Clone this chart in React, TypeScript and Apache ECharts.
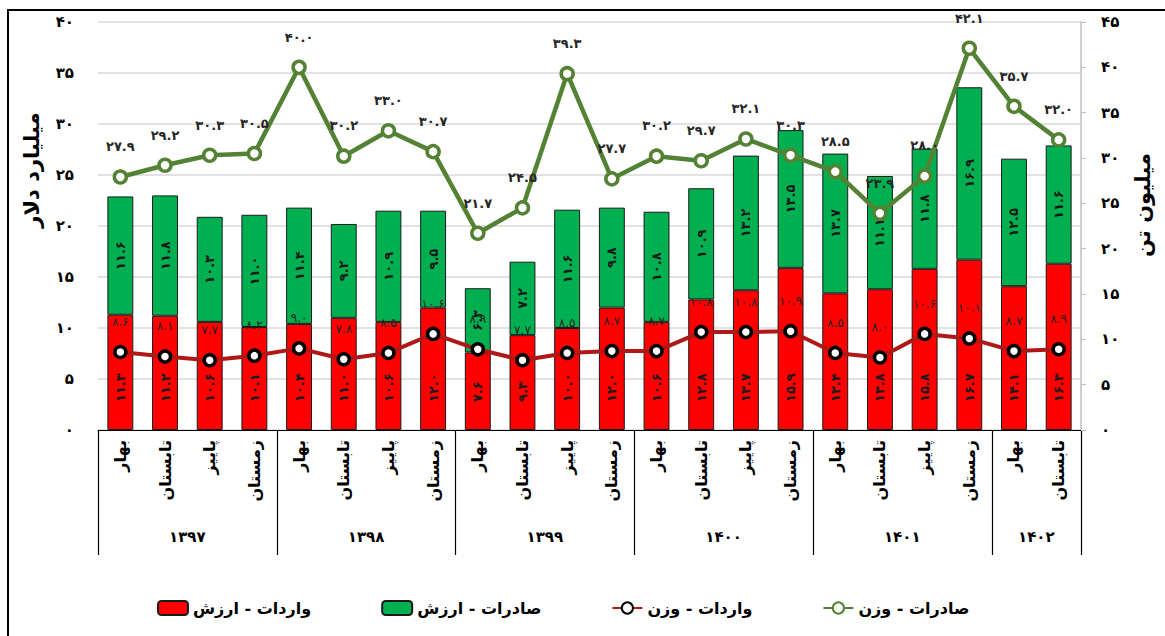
import React, { useEffect, useRef } from "react";
import * as echarts from "echarts";

const seasons = ["بهار", "تابستان", "پاییز", "زمستان"];
const years = ["۱۳۹۷", "۱۳۹۸", "۱۳۹۹", "۱۴۰۰", "۱۴۰۱", "۱۴۰۲"];
const yearCounts = [4, 4, 4, 4, 4, 2];
const categories: string[] = [];
yearCounts.forEach((n) => { for (let i = 0; i < n; i++) categories.push(seasons[i]); });

const importValue = [11.3, 11.2, 10.6, 10.1, 10.4, 11.0, 10.6, 12.0, 7.6, 9.3, 10.0, 12.0, 10.6, 12.8, 13.7, 15.9, 13.4, 13.8, 15.8, 16.7, 14.1, 16.3];
const exportValue = [11.6, 11.8, 10.3, 11.0, 11.4, 9.2, 10.9, 9.5, 6.3, 7.2, 11.6, 9.8, 10.8, 10.9, 13.2, 13.5, 13.7, 11.1, 11.8, 16.9, 12.5, 11.6];
const importWeight = [8.6, 8.1, 7.7, 8.2, 9.0, 7.8, 8.5, 10.6, 8.9, 7.7, 8.5, 8.7, 8.7, 10.8, 10.8, 10.9, 8.5, 8.0, 10.6, 10.1, 8.7, 8.9];
const exportWeight = [27.9, 29.2, 30.3, 30.5, 40.0, 30.2, 33.0, 30.7, 21.7, 24.5, 39.3, 27.7, 30.2, 29.7, 32.1, 30.3, 28.5, 23.9, 28.0, 42.1, 35.7, 32.0];

const names = {
  impVal: "واردات - ارزش",
  expVal: "صادرات - ارزش",
  impW: "واردات - وزن",
  expW: "صادرات - وزن",
};

const fa = (s: string) => s.replace(/[0-9]/g, (d) => "۰۱۲۳۴۵۶۷۸۹"[+d]);
const f1 = (v: number) => fa(v.toFixed(1));
const FONT = "DejaVu Sans";

export default function App() {
  const ref = useRef<HTMLDivElement>(null);
  useEffect(() => {
    document.body.style.margin = "0";
    const chart = echarts.init(ref.current!, undefined, { renderer: "svg" });
    const option: any = {
      animation: false,
      backgroundColor: "#ffffff",
      textStyle: { fontFamily: FONT },
      grid: { left: 98, right: 84, top: 22, bottom: 206 },
      legend: {
        left: 152,
        top: 595,
        data: [names.impVal, names.expVal, names.impW, names.expW],
        itemWidth: 30,
        itemHeight: 14,
        itemGap: 70,
        textStyle: { fontFamily: FONT, fontSize: 16, fontWeight: "bold", color: "#000" },
      },
      xAxis: {
        type: "category",
        data: categories,
        axisLine: { show: true, lineStyle: { color: "#000", width: 1 } },
        axisTick: { show: false },
        axisLabel: {
          rotate: 90,
          interval: 0,
          margin: 10,
          fontFamily: FONT,
          fontSize: 16,
          fontWeight: "bold",
          color: "#000",
        },
      },
      yAxis: [
        {
          type: "value",
          min: 0,
          max: 40,
          interval: 5,
          axisLine: { show: false },
          axisTick: { show: false },
          splitLine: { show: true, lineStyle: { color: "#d9d9d9", width: 1.5 } },
          axisLabel: {
            margin: 24,
            fontFamily: FONT,
            fontSize: 15,
            fontWeight: "bold",
            color: "#000",
            formatter: (v: number) => fa(String(v)),
          },
        },
        {
          type: "value",
          min: 0,
          max: 45,
          interval: 5,
          position: "right",
          axisLine: { show: true, lineStyle: { color: "#bfbfbf", width: 1.5 } },
          axisTick: { show: true, length: 5, lineStyle: { color: "#bfbfbf" } },
          splitLine: { show: false },
          axisLabel: {
            margin: 20,
            fontFamily: FONT,
            fontSize: 15,
            fontWeight: "bold",
            color: "#000",
            formatter: (v: number) => fa(String(v)),
          },
        },
      ],
      series: [
        {
          name: names.impVal,
          type: "bar",
          stack: "v",
          barWidth: "58%",
          data: importValue,
          itemStyle: { color: "#ff0000", borderColor: "#1a1a1a", borderWidth: 1 },
          label: {
            show: true,
            position: "insideBottom",
            rotate: 90,
            align: "left",
            verticalAlign: "middle",
            distance: 28,
            fontFamily: FONT,
            fontSize: 13,
            fontWeight: "bold",
            color: "#1a1a1a",
            formatter: (p: any) => f1(p.value),
          },
        },
        {
          name: names.expVal,
          type: "bar",
          stack: "v",
          barWidth: "58%",
          data: exportValue,
          itemStyle: { color: "#00b050", borderColor: "#1a1a1a", borderWidth: 1 },
          label: {
            show: true,
            position: "inside",
            rotate: 90,
            fontFamily: FONT,
            fontSize: 13,
            fontWeight: "bold",
            color: "#1a1a1a",
            formatter: (p: any) => f1(p.value),
          },
        },
        {
          name: names.impW,
          type: "line",
          yAxisIndex: 1,
          data: importWeight,
          z: 5,
          symbol: "circle",
          symbolSize: 11,
          lineStyle: { color: "#b01818", width: 4 },
          itemStyle: { color: "#ffffff", borderColor: "#000", borderWidth: 3.5 },
          label: {
            show: true,
            position: "top",
            distance: 17,
            fontFamily: FONT,
            fontSize: 12,
            color: "#222",
            formatter: (p: any) => f1(p.value),
          },
        },
        {
          name: names.expW,
          type: "line",
          yAxisIndex: 1,
          data: exportWeight,
          z: 6,
          symbol: "circle",
          symbolSize: 12,
          lineStyle: { color: "#548235", width: 4.5 },
          itemStyle: { color: "#ffffff", borderColor: "#548235", borderWidth: 3.5 },
          label: {
            show: true,
            position: "top",
            distance: 16,
            fontFamily: FONT,
            fontSize: 13,
            fontWeight: "bold",
            color: "#262626",
            formatter: (p: any) => f1(p.value),
          },
        },
      ],
    };
    chart.setOption(option);

    const c0 = chart.convertToPixel({ xAxisIndex: 0 }, 0) as number;
    const c1 = chart.convertToPixel({ xAxisIndex: 0 }, 1) as number;
    const band = c1 - c0;
    const axisY = chart.convertToPixel({ yAxisIndex: 0 }, 0) as number;
    const graphics: any[] = [
      {
        type: "rect",
        shape: { x: 8, y: 10, width: 1200, height: 700 },
        style: { fill: "none", stroke: "#000", lineWidth: 2 },
        silent: true,
      },
      {
        type: "text",
        x: 32,
        y: 170,
        rotation: Math.PI / 2,
        style: {
          text: "میلیارد دلار",
          fontFamily: FONT,
          fontSize: 21,
          fontWeight: "bold",
          fill: "#000",
          align: "center",
          verticalAlign: "middle",
        },
      },
      {
        type: "text",
        x: 1143,
        y: 205,
        rotation: Math.PI / 2,
        style: {
          text: "میلیون تن",
          fontFamily: FONT,
          fontSize: 21,
          fontWeight: "bold",
          fill: "#000",
          align: "center",
          verticalAlign: "middle",
        },
      },
    ];
    let start = 0;
    const bounds: number[] = [0];
    yearCounts.forEach((n, i) => {
      const left = c0 - band / 2 + start * band;
      const right = left + n * band;
      graphics.push({
        type: "text",
        x: (left + right) / 2,
        y: axisY + 107,
        style: {
          text: years[i],
          fontFamily: FONT,
          fontSize: 15,
          fontWeight: "bold",
          fill: "#000",
          align: "center",
          verticalAlign: "middle",
        },
      });
      start += n;
      bounds.push(start);
    });
    bounds.forEach((b) => {
      const x = Math.round(c0 - band / 2 + b * band) + 0.5;
      graphics.push({
        type: "line",
        shape: { x1: x, y1: axisY, x2: x, y2: axisY + 125 },
        style: { stroke: "#000", lineWidth: 1.2 },
        silent: true,
      });
    });
    chart.setOption({ graphic: graphics });

    return () => chart.dispose();
  }, []);
  return <div ref={ref} style={{ width: 1165, height: 636 }} />;
}
